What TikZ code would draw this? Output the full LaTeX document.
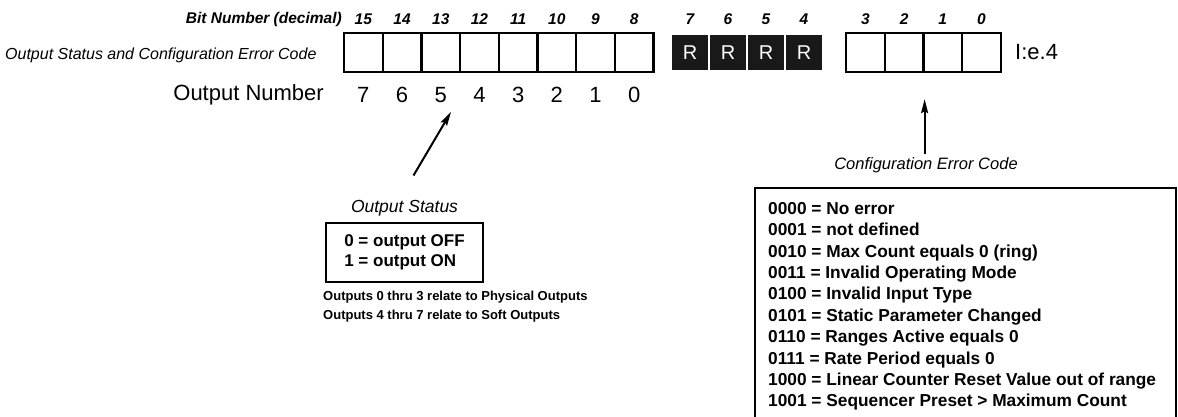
\documentclass[tikz,border=0pt]{standalone}
\usepackage{fontspec}
\setmainfont{Liberation Sans}
\usetikzlibrary{arrows.meta, positioning, calc}

\begin{document}
\begin{tikzpicture}[
    x=1pt, y=-1pt,
    >={Stealth[length=14pt, width=7pt, inset=2pt]},
    cell/.style={rectangle, draw=black, line width=2.4pt, minimum width=38.7pt, minimum height=39pt, inner sep=0pt},
    rbox/.style={rectangle, fill=black!90, text=white, minimum width=36pt, minimum height=35pt, inner sep=0pt, font=\fontsize{20}{24}\selectfont},
    bitnum/.style={font=\fontsize{15.5}{18}\selectfont\bfseries\itshape, inner sep=0pt},
    outnum/.style={font=\fontsize{22}{26}\selectfont, inner sep=0pt},
    pointer/.style={->, line width=2pt}
]
\useasboundingbox (0,0) rectangle (1178,417);

% =============================================================
% Word layout: bits 15-8, reserved 7-4, bits 3-0 (y = 52.5)
% =============================================================
\coordinate (bitrow) at (0,19);
\coordinate (outrow) at (0,95);
\foreach \b [count=\i from 0] in {15,...,8}
    \node[cell] (c\b) at (363.35+38.7*\i, 52.5) {};
\foreach \b [count=\i from 0] in {7,...,4}
    \node[rbox] (c\b) at (690+38*\i, 52.5) {R};
\foreach \b [count=\i from 0] in {3,...,0}
    \node[cell] (c\b) at (865.35+38.7*\i, 52.5) {};

% Bit numbers above, output numbers below
\foreach \b in {15,...,0}
    \node[bitnum] (n\b) at (c\b |- bitrow) {\b};
\foreach \o [evaluate=\o as \b using int(\o+8)] in {7,...,0}
    \node[outnum] (o\o) at (c\b |- outrow) {\o};

% Row captions
\node[bitnum, anchor=east] (bitlbl) at (342,19) {Bit Number (decimal)};
\node[font=\fontsize{16}{19}\selectfont\itshape, anchor=east] (wordlbl) at (320,55) {Output Status and Configuration Error Code};
\node[outnum, anchor=east] (outlbl) at (324,95) {Output Number};
\node[outnum, anchor=west] (addr) at (1015,52.5) {I:e.4};

% =============================================================
% Output status legend
% =============================================================
\node[draw, line width=1.2pt, align=left, minimum width=157pt, minimum height=59pt, font=\fontsize{17}{20}\selectfont\bfseries] (statbox) at (404.5,252.5) {0 = output OFF\\1 = output ON};
\node[font=\fontsize{17.5}{20}\selectfont\itshape, above=3pt of statbox] (statlbl) {Output Status};
\coordinate (stattail) at ([shift={(9pt,21pt)}]statlbl.north);
\draw[pointer] (stattail) -- ([shift={(4pt,-9pt)}]o5.south east);

\node[font=\fontsize{13}{19}\selectfont\bfseries, align=left, anchor=north west, inner sep=0pt] (notes) at (323,291) {Outputs 0 thru 3 relate to Physical Outputs\\Outputs 4 thru 7 relate to Soft Outputs};

% =============================================================
% Configuration error code legend (box runs off the bottom)
% =============================================================
\node[font=\fontsize{16.5}{19}\selectfont\itshape] (cfglbl) at (926,165) {Configuration Error Code};
\draw[line width=1.2pt] (755,425) |- (1176,188) -- (1176,425);
\node[font=\fontsize{17.3}{21.4}\selectfont\bfseries, align=left, anchor=north west, inner sep=0pt] (errlist) at (768,202) {0000 = No error\\0001 = not defined\\0010 = Max Count equals 0 (ring)\\0011 = Invalid Operating Mode\\0100 = Invalid Input Type\\0101 = Static Parameter Changed\\0110 = Ranges Active equals 0\\0111 = Rate Period equals 0\\1000 = Linear Counter Reset Value out of range\\1001 = Sequencer Preset > Maximum Count};
\draw[pointer] (cfglbl.north -| c2.south east) -- ([yshift=-26pt]c2.south east);

\end{tikzpicture}
\end{document}
